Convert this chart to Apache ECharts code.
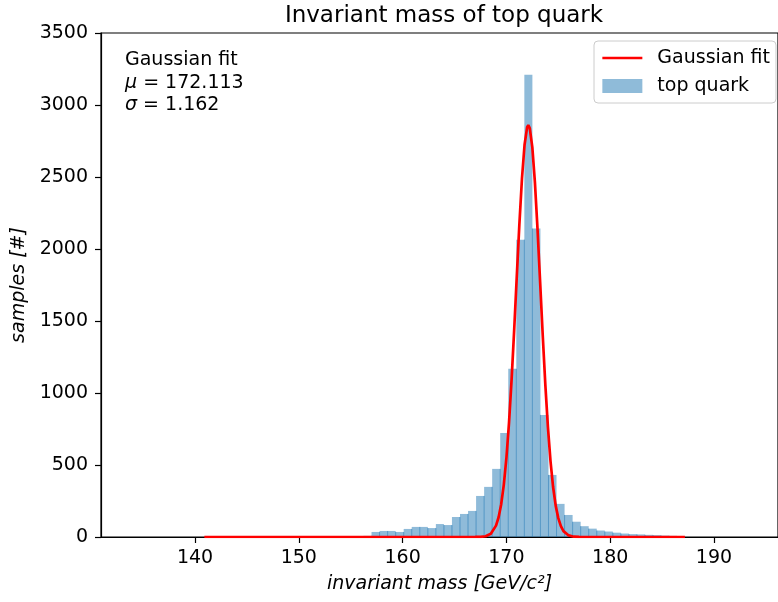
<!DOCTYPE html>
<html>
<head>
<meta charset="utf-8">
<script src="https://cdn.jsdelivr.net/npm/echarts@6/dist/echarts.min.js"></script>
<style>html,body{margin:0;padding:0;background:#fff}#c{width:778px;height:602px}</style>
</head>
<body>
<div id="c"></div>
<script>
// ---- data ----
const binStart = 140.73;
const binWidth = 0.775;
const counts = [
  0, 1, 0, 0, 1, 0, 1, 0, 1, 1,
  2, 1, 2, 2, 3, 2, 3, 4, 3, 6,
  8, 35, 42, 42, 35, 56, 70, 70, 62, 90,
  83, 139, 160, 181, 285, 348, 473, 723, 1168, 2065,
  3210, 2142, 848, 431, 230, 153, 106, 75, 58, 45,
  38, 30, 24, 20, 18, 15, 13, 10, 8, 6
];
const fitX = [140.9, 166, 167, 167.5, 168, 168.5, 169, 169.25, 169.5, 169.75, 170, 170.25, 170.5, 170.75, 171, 171.25, 171.5, 171.75, 172, 172.11, 172.25, 172.5, 172.75, 173, 173.25, 173.5, 173.75, 174, 174.25, 174.5, 174.75, 175, 175.25, 175.5, 176, 176.5, 177, 178, 187.2];
const fitY = [0, 0, 0.2, 1, 5, 23, 79, 137, 228, 362, 547, 791, 1091, 1437, 1808, 2171, 2488, 2724, 2846, 2860, 2840, 2706, 2461, 2137, 1772, 1403, 1060, 765, 527, 347, 218, 131, 75, 41, 11, 2, 0.4, 0, 0];
const xTicks = [140, 150, 160, 170, 180, 190];
const yTicks = [0, 500, 1000, 1500, 2000, 2500, 3000, 3500];
const fitText = {label: 'Gaussian fit', mu: '172.113', sigma: '1.162'};

// ---- chart ----
const FONT = 'DejaVu Sans';
const FS = 19;
const histData = counts.map((c, i) => [binStart + i * binWidth, binStart + (i + 1) * binWidth, c]);
const fitData = fitX.map((x, i) => [x, fitY[i]]);

const chart = echarts.init(document.getElementById('c'), null, {renderer: 'canvas'});
chart.setOption({
  animation: false,
  backgroundColor: '#fff',
  title: {
    text: 'Invariant mass of top quark',
    left: 439, top: 0, textAlign: 'center',
    textStyle: {fontFamily: FONT, fontSize: 23, fontWeight: 'normal', color: '#000'}
  },
  grid: {left: 101, right: 0, top: 33, bottom: 65, show: true, borderColor: '#000', borderWidth: 1.2, containLabel: false},
  legend: {
    left: 594, top: 41, orient: 'vertical',
    itemWidth: 40, itemHeight: 14, itemGap: 8,
    padding: [7, 6, 7, 7],
    borderColor: '#cccccc', borderWidth: 1, borderRadius: 4,
    backgroundColor: 'rgba(255,255,255,0.8)',
    textStyle: {fontFamily: FONT, fontSize: FS, color: '#000', lineHeight: 20, padding: [0, 0, 0, 10]},
    data: [
      {name: 'Gaussian fit', itemStyle: {color: 'rgba(0,0,0,0)', borderWidth: 0, opacity: 0}, lineStyle: {width: 2.7, color: '#ff0000'}},
      {name: 'top quark', icon: 'rect'}
    ]
  },
  xAxis: {
    type: 'value', min: 130.94, max: 196.17,
    name: 'invariant mass [GeV/c²]', nameLocation: 'middle', nameGap: 38,
    nameTextStyle: {fontFamily: FONT, fontSize: FS, fontStyle: 'italic', color: '#000'},
    axisLine: {show: true, lineStyle: {color: '#000', width: 1.2}},
    axisTick: {show: true, customValues: xTicks, length: 6, lineStyle: {color: '#000', width: 1.2}},
    axisLabel: {customValues: xTicks, margin: 12, fontFamily: FONT, fontSize: FS, color: '#000'},
    splitLine: {show: false}
  },
  yAxis: {
    type: 'value', min: 0, max: 3500, interval: 500,
    name: 'samples [#]', nameLocation: 'middle', nameGap: 70,
    nameTextStyle: {fontFamily: FONT, fontSize: FS, fontStyle: 'italic', color: '#000'},
    axisLine: {show: true, lineStyle: {color: '#000', width: 1.2}},
    axisTick: {show: true, customValues: yTicks, length: 6, lineStyle: {color: '#000', width: 1.2}},
    axisLabel: {customValues: yTicks, margin: 13, fontFamily: FONT, fontSize: FS, color: '#000', formatter: function (v) { return String(v); }},
    splitLine: {show: false}
  },
  graphic: [{
    type: 'text', left: 125, top: 51,
    style: {
      text: '{n|' + fitText.label + '}\n{i|μ}{n| = ' + fitText.mu + '}\n{i|σ}{n| = ' + fitText.sigma + '}',
      rich: {
        n: {fontFamily: FONT, fontSize: FS, fill: '#000', lineHeight: 22.5},
        i: {fontFamily: FONT, fontSize: FS, fontStyle: 'italic', fill: '#000', lineHeight: 22.5}
      }
    }
  }],
  series: [
    {
      name: 'top quark', type: 'custom', z: 2,
      itemStyle: {color: 'rgba(31,119,180,0.5)'},
      encode: {x: [0, 1], y: 2},
      data: histData,
      renderItem: function (params, api) {
        const i = params.dataIndex;
        const x0 = api.value(0), x1 = api.value(1), v = api.value(2);
        const p0 = api.coord([x0, 0]);
        const p1 = api.coord([x1, v]);
        const prev = i > 0 ? counts[i - 1] : 0;
        const seamTop = api.coord([x0, Math.min(prev, v)]);
        const children = [{
          type: 'rect',
          shape: {x: p0[0], y: p1[1], width: p1[0] - p0[0], height: p0[1] - p1[1]},
          style: {fill: 'rgba(31,119,180,0.5)'}
        }];
        if (Math.min(prev, v) > 0) {
          children.push({
            type: 'line',
            shape: {x1: p0[0], y1: p0[1], x2: p0[0], y2: seamTop[1]},
            style: {stroke: 'rgba(31,119,180,0.55)', lineWidth: 1}
          });
        }
        return {type: 'group', children: children};
      }
    },
    {
      name: 'Gaussian fit', type: 'line', z: 5,
      data: fitData, showSymbol: false, symbol: 'none', smooth: false,
      lineStyle: {color: '#ff0000', width: 2.7},
      itemStyle: {color: '#ff0000'}
    }
  ]
});
</script>
</body>
</html>
